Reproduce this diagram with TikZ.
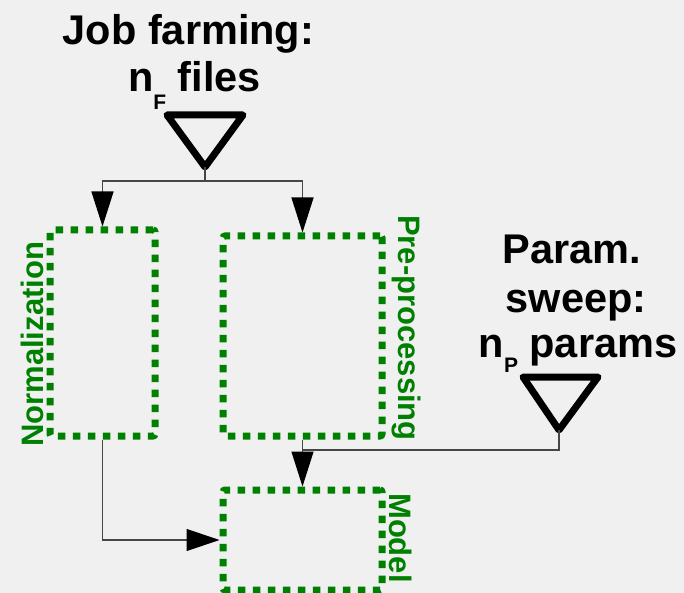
\documentclass[tikz,border=0pt]{standalone}
\usepackage{fontspec}
\setmainfont{Liberation Sans}
\usetikzlibrary{arrows.meta}
\definecolor{bg}{RGB}{240,240,240}
\definecolor{boxgreen}{RGB}{0,128,0}
\definecolor{linegray}{RGB}{70,70,70}
\begin{document}
\begin{tikzpicture}[x=1pt,y=-1pt,
  stagebox/.style={draw=boxgreen, line width=7pt, dash pattern=on 7.5pt off 7.5pt,
    rounded corners=2pt, rectangle, inner sep=0pt},
  title/.style={font=\fontsize{41.5}{48}\selectfont\bfseries, inner sep=0pt, anchor=base},
  stagelabel/.style={font=\fontsize{31}{36}\selectfont\bfseries, text=boxgreen, inner sep=0pt, anchor=base west},
  sweep/.style={draw=black, line width=7pt, line join=round},
  conn/.style={draw=linegray, line width=1.2pt, -{Triangle[length=35pt,width=22pt,color=black]}},
  connh/.style={draw=linegray, line width=1.2pt, -{Triangle[length=33pt,width=22pt,color=black]}},
  plain/.style={draw=linegray, line width=1.2pt}]
\useasboundingbox (0,0) rectangle (684,593);
\fill[bg] (0,0) rectangle (684,593);

% titles
\node[title] (jf1) at (188.5,45) {Job farming:};
\node[title] (jf2) at (194.5,92) {n\raisebox{-18pt}{\fontsize{21}{21}\selectfont F}\ files};
\node[title] (ps1) at (572,263) {Param.};
\node[title] (ps2) at (576,312) {sweep:};
\node[title] (ps3) at (578,357) {n\raisebox{-15pt}{\fontsize{21}{21}\selectfont P}\ params};

% sweep triangles
\draw[sweep] (167,115) -- (243,115) -- (205,167) -- cycle;
\coordinate (tf) at (205,167);
\draw[sweep] (523,377) -- (598,377) -- (559,430) -- cycle;
\coordinate (tp) at (559,430);

% stage boxes
\node[stagebox, minimum width=105pt, minimum height=206pt] (norm) at (102.5,333) {};
\node[stagebox, minimum width=159pt, minimum height=200pt] (pre) at (302.5,336) {};
\node[stagebox, minimum width=159pt, minimum height=100pt] (model) at (302.5,540) {};

% stage labels
\node[stagelabel, rotate=90] (normlab) at (43,447) {Normalization};
\node[stagelabel, rotate=-90] (prelab) at (398,215) {Pre-processing};
\node[stagelabel, rotate=-90] (modlab) at (389,493) {Model};

% connectors
\coordinate (j1) at (205,181);
\draw[plain] (tf) -- (j1);
\draw[conn] (j1) -| (norm.north);
\draw[conn] (j1) -| (pre.north);
\draw[conn] (pre.south) -- (model.north);
\coordinate (j2) at (302.5,450);
\draw[plain] (tp) |- (j2);
\draw[connh] (norm.south) |- (model.west);
\end{tikzpicture}
\end{document}
